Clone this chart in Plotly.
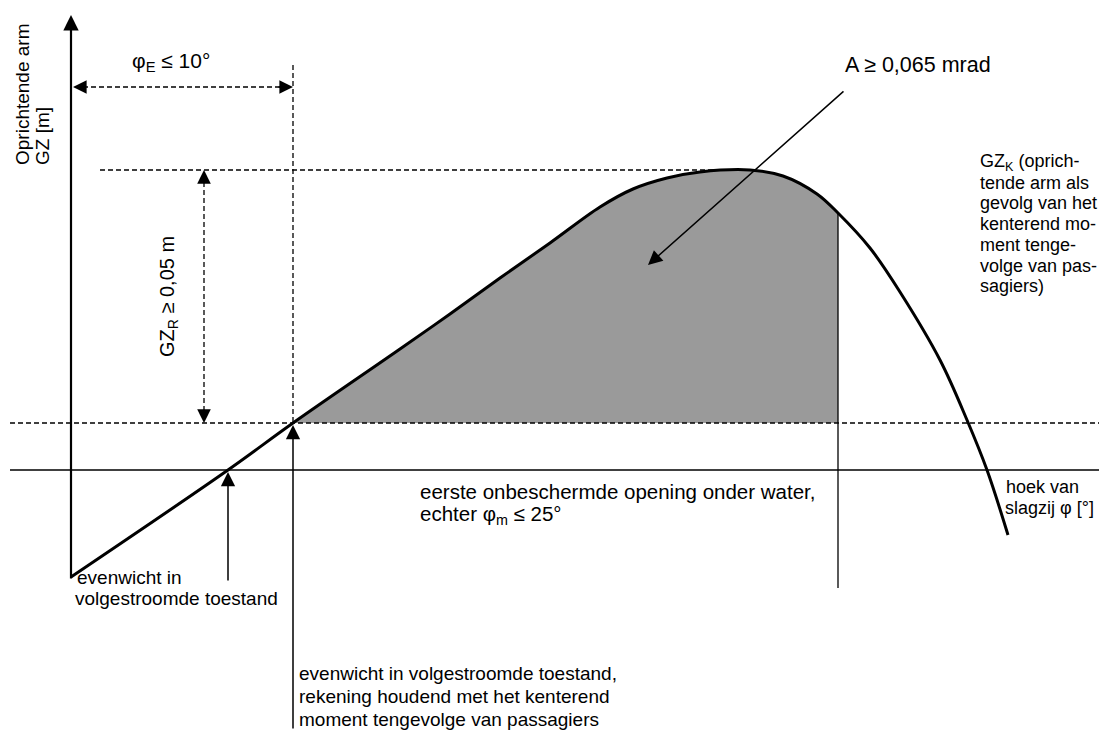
import plotly.graph_objects as go

# ---- data (schematic diagram units: 1 unit = 1 px of the reference) ----
phi = [0, 157, 222, 329, 379, 429, 479, 529, 562, 596, 629, 679, 712, 746, 767, 799, 829, 869, 896, 916, 937]
gz = [-107, 0, 47, 121, 156, 192, 227, 263, 281, 292, 298, 300, 294, 276, 257, 222, 178, 110, 50, 0, -65]

phi_zero = 157      # equilibrium (GZ = 0)
phi_e = 222         # equilibrium incl. passenger heeling moment
phi_m = 767         # first unprotected opening
gz_r = 47           # GZ_R level
gz_max = 300        # max GZ

FONT = "Liberation Sans, Arial, sans-serif"

fig = go.Figure()

# shaded area A: baseline at GZ_R, then the curve part filled to it
fx = [p for p in phi if phi_e <= p <= phi_m]
fy = [g for p, g in zip(phi, gz) if phi_e <= p <= phi_m]
fig.add_trace(go.Scatter(x=[phi_e, phi_m], y=[gz_r, gz_r], mode="lines",
                         line=dict(width=0, color="rgba(0,0,0,0)"),
                         hoverinfo="skip", showlegend=False))
fig.add_trace(go.Scatter(x=fx, y=fy, fill="tonexty", fillcolor="#9a9a9a", mode="lines",
                         line=dict(width=0, color="rgba(0,0,0,0)", shape="spline", smoothing=1.0),
                         hoverinfo="skip", showlegend=False))

def seg(x0, y0, x1, y1, width=1.5, dash="solid", color="black"):
    fig.add_trace(go.Scatter(x=[x0, x1], y=[y0, y1], mode="lines",
                             line=dict(color=color, width=width, dash=dash),
                             hoverinfo="skip", showlegend=False))

DASH = "5px,3px"
# horizontal axis
seg(-61, 0, 1036, 0, width=1.6)
# GZ_R level dashed
seg(-61, gz_r, 1036, gz_r, width=1.3, dash=DASH)
# max GZ dashed
seg(29, gz_max, 679, gz_max, width=1.3, dash=DASH)
# vertical dashed at phi_e
seg(phi_e, 405, phi_e, gz_r, width=1.3, dash=DASH)
# vertical line at phi_m
seg(phi_m, 257, phi_m, -118, width=1.3)
# dashed double arrow lines
seg(4, 383, phi_e - 2, 383, width=1.3, dash=DASH)
seg(133, gz_max - 4, 133, gz_r + 4, width=1.3, dash=DASH)

# GZ curve
fig.add_trace(go.Scatter(x=phi, y=gz, mode="lines",
                         line=dict(color="black", width=3, shape="spline", smoothing=1.0),
                         hoverinfo="skip", showlegend=False))

def arrow(tx, ty, hx, hy, width=1.5, size=1.8):
    fig.add_annotation(x=hx, y=hy, ax=tx, ay=ty, xref="x", yref="y", axref="x", ayref="y",
                       text="", showarrow=True, arrowhead=2, arrowsize=size,
                       arrowwidth=width, arrowcolor="black")

# y axis with arrow
arrow(0, -110, 0, 455, width=2.2, size=1.4)
# equilibrium arrows
arrow(phi_zero, -112, phi_zero, -2, width=1.5, size=1.9)
arrow(phi_e, -260, phi_e, gz_r - 2, width=1.5, size=1.9)
# A pointer
arrow(774, 380, 577, 205, width=1.5, size=1.9)
# dashed double arrow heads
arrow(16, 383, 2, 383, width=1.3, size=2.1)
arrow(phi_e - 16, 383, phi_e, 383, width=1.3, size=2.1)
arrow(133, gz_max - 14, 133, gz_max, width=1.3, size=2.1)
arrow(133, gz_r + 14, 133, gz_r, width=1.3, size=2.1)

def txt(x, y, s, size=19, angle=0, xa="left", ya="middle"):
    fig.add_annotation(x=x, y=y, xref="x", yref="y", text=s, showarrow=False,
                       xanchor=xa, yanchor=ya, textangle=angle, align="left",
                       font=dict(family=FONT, size=size, color="black"))

# y axis title (rotated)
txt(-49, 303, "Oprichtende arm", size=19, angle=-90, xa="center", ya="bottom")
txt(-29, 303, "GZ [m]", size=19, angle=-90, xa="center", ya="bottom")
txt(97, 173, "GZ<sub>R</sub> ≥ 0,05 m", size=20, angle=-90, xa="center", ya="middle")

txt(59, 408, "φ<sub>E</sub> ≤ 10°", size=21)
txt(772, 405, "A ≥ 0,065 mrad", size=21.5)

gz_k_lines = ["GZ<sub>K</sub> (oprich-", "tende arm als", "gevolg van het", "kenterend mo-",
              "ment tenge-", "volge van pas-", "sagiers)"]
for i, s in enumerate(gz_k_lines):
    txt(907, 308 - i * 20.7, s, size=18)

txt(933, -17, "hoek van", size=18)
txt(932, -38, "slagzij φ [°]", size=18)

txt(347, -21, "eerste onbeschermde opening onder water,", size=20.5)
txt(347, -45, "echter φ<sub>m</sub> ≤ 25°", size=20.5)

txt(4, -107, "evenwicht in", size=19)
txt(2, -128, "volgestroomde toestand", size=19)

bottom_lines = ["evenwicht in volgestroomde toestand,", "rekening houdend met het kenterend",
                "moment tengevolge van passagiers"]
for i, s in enumerate(bottom_lines):
    txt(226, -203 - i * 23, s, size=19)

# page has an 8 px body margin: the figure starts at (8, 8) of the window
fig.update_layout(
    width=1099, height=725, autosize=False,
    margin=dict(l=0, r=0, t=0, b=0, pad=0),
    paper_bgcolor="white", plot_bgcolor="white",
    xaxis=dict(range=[-63, 1036], visible=False, fixedrange=True),
    yaxis=dict(range=[-263, 462], visible=False, fixedrange=True),
    showlegend=False,
)

fig.write_html("out.html")
